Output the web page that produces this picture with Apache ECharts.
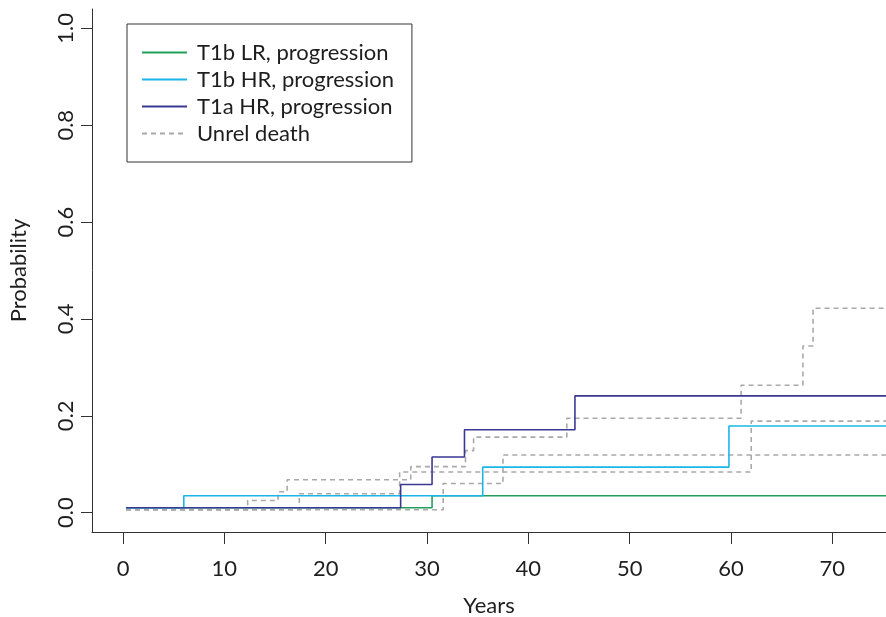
<!DOCTYPE html>
<html>
<head>
<meta charset="utf-8">
<script src="https://cdn.jsdelivr.net/npm/echarts@6/dist/echarts.min.js"></script>
<style>
  html, body { margin: 0; padding: 0; background: #ffffff; }
  #chart { width: 886px; height: 617px; }
</style>
</head>
<body>
<div id="chart"></div>
<script>
// ---- data ----
const seriesNames = ['T1b LR, progression', 'T1b HR, progression', 'T1a HR, progression', 'Unrel death'];

const t1bLrTime = [0.3, 30.5, 75.3];
const t1bLrProb = [0.010, 0.035, 0.035];

const t1bHrTime = [0.3, 6.0, 35.5, 59.8, 75.3];
const t1bHrProb = [0.010, 0.035, 0.094, 0.179, 0.179];

const t1aHrTime = [0.3, 27.4, 30.5, 33.7, 44.6, 75.3];
const t1aHrProb = [0.010, 0.058, 0.115, 0.171, 0.241, 0.241];

const death1Time = [0.3, 12.3, 15.3, 16.2, 28.4, 33.8, 34.6, 43.8, 61.0, 67.1, 68.1, 75.3];
const death1Prob = [0.006, 0.025, 0.043, 0.068, 0.095, 0.128, 0.156, 0.195, 0.263, 0.344, 0.422, 0.422];

const death2Time = [0.3, 17.4, 27.3, 62.0, 75.3];
const death2Prob = [0.006, 0.039, 0.084, 0.189, 0.189];

const death3Time = [0.3, 31.6, 37.5, 75.3];
const death3Prob = [0.006, 0.060, 0.119, 0.119];

const xTicks = [0, 10, 20, 30, 40, 50, 60, 70];
const yTicks = [0, 0.2, 0.4, 0.6, 0.8, 1.0];

// ---- chart ----
const FONT = 'Lato';
const TXT = '#1e1e1e';
const AX = '#333333';

function pairs(xs, ys) { return xs.map((x, i) => [x, ys[i]]); }

const colors = { lr: '#22a05a', hr: '#1bb6e8', t1a: '#3b3893', death: '#a9a9a9' };

function stepSeries(name, xs, ys, color, dashed) {
  return {
    name: name,
    type: 'line',
    step: 'end',
    symbol: 'none',
    silent: true,
    data: pairs(xs, ys),
    lineStyle: { color: color, width: 1.6, type: dashed ? [5, 4] : 'solid' },
    itemStyle: { color: color }
  };
}

const chart = echarts.init(document.getElementById('chart'), null, { renderer: 'canvas' });
chart.setOption({
  animation: false,
  backgroundColor: '#ffffff',
  grid: { left: 92, right: 0, top: 9, bottom: 85, containLabel: false, outerBoundsMode: 'none' },
  legend: {
    data: seriesNames,
    orient: 'vertical',
    left: 127,
    top: 24,
    padding: [15, 18, 15, 14],
    itemGap: 0,
    itemWidth: 45,
    itemHeight: 14,
    borderColor: '#333333',
    borderWidth: 1,
    selectedMode: false,
    itemStyle: { opacity: 0, borderWidth: 0 },
    textStyle: { fontFamily: FONT, fontSize: 22, color: TXT, lineHeight: 27, padding: [0, 0, 0, 5] }
  },
  xAxis: {
    type: 'value',
    min: -3.06,
    max: 75.3,
    name: 'Years',
    nameLocation: 'middle',
    nameGap: 63,
    nameTextStyle: { fontFamily: FONT, fontSize: 22, color: TXT },
    axisLine: { show: true, onZero: false, lineStyle: { color: AX, width: 1 } },
    axisTick: { show: true, length: 12, customValues: xTicks, lineStyle: { color: AX } },
    axisLabel: { customValues: xTicks, fontFamily: FONT, fontSize: 22, color: TXT, margin: 26 },
    splitLine: { show: false }
  },
  yAxis: {
    type: 'value',
    min: -0.04,
    max: 1.04,
    name: 'Probability',
    nameLocation: 'middle',
    nameRotate: 90,
    nameGap: 62,
    nameTextStyle: { fontFamily: FONT, fontSize: 22, color: TXT },
    axisLine: { show: true, onZero: false, lineStyle: { color: AX, width: 1 } },
    axisTick: { show: true, length: 11, customValues: yTicks, lineStyle: { color: AX } },
    axisLabel: {
      customValues: yTicks, rotate: 90, fontFamily: FONT, fontSize: 22, color: TXT, margin: 15,
      formatter: v => v.toFixed(1)
    },
    splitLine: { show: false }
  },
  series: [
    stepSeries(seriesNames[3], death1Time, death1Prob, colors.death, true),
    stepSeries(seriesNames[3], death2Time, death2Prob, colors.death, true),
    stepSeries(seriesNames[3], death3Time, death3Prob, colors.death, true),
    stepSeries(seriesNames[0], t1bLrTime, t1bLrProb, colors.lr, false),
    stepSeries(seriesNames[1], t1bHrTime, t1bHrProb, colors.hr, false),
    stepSeries(seriesNames[2], t1aHrTime, t1aHrProb, colors.t1a, false)
  ]
});
</script>
</body>
</html>
